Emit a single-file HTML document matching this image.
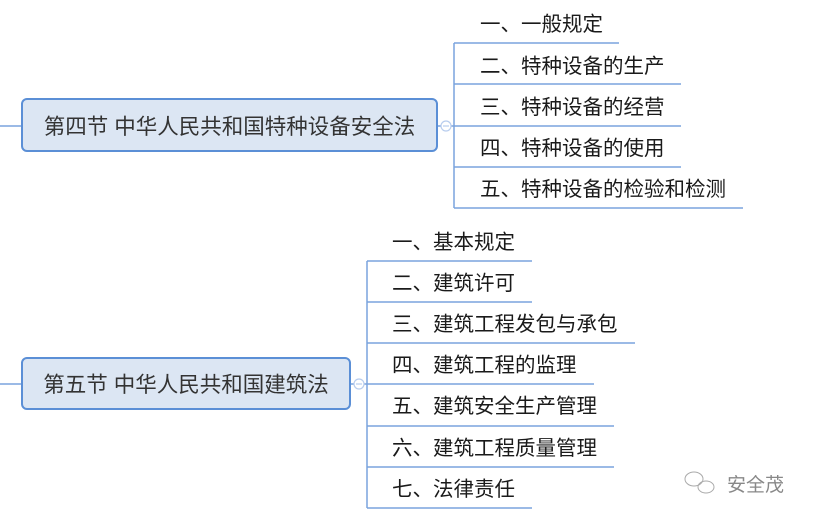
<!DOCTYPE html>
<html><head><meta charset="utf-8"><style>
html,body{margin:0;padding:0;background:#fff;width:813px;height:521px;overflow:hidden;position:relative}
.t{position:absolute;font-family:"Liberation Sans","Noto Sans CJK SC",sans-serif;font-size:20.5px;color:#1a1a1a;white-space:nowrap;line-height:24px}
.box{position:absolute;box-sizing:border-box;border:2.5px solid #5b8fd6;border-radius:6px;background:#dce6f3;font-family:"Liberation Sans","Noto Sans CJK SC",sans-serif;font-size:21.5px;color:#333;display:flex;align-items:center;justify-content:center;white-space:nowrap}
</style></head><body>
<svg width="813" height="521" style="position:absolute;left:0;top:0">
<g stroke="#7aa3dd" stroke-width="1.5" fill="none">
<line x1="0" y1="126" x2="22" y2="126"/>
<line x1="438" y1="126" x2="454" y2="126"/>
<line x1="454" y1="43" x2="454" y2="208"/>
<line x1="454" y1="43" x2="619" y2="43"/>
<line x1="454" y1="84" x2="681" y2="84"/>
<line x1="454" y1="126" x2="681" y2="126"/>
<line x1="454" y1="167" x2="681" y2="167"/>
<line x1="454" y1="208" x2="743" y2="208"/>
<line x1="0" y1="384" x2="22" y2="384"/>
<line x1="350" y1="384" x2="367" y2="384"/>
<line x1="367" y1="261" x2="367" y2="508"/>
<line x1="367" y1="261" x2="532" y2="261"/>
<line x1="367" y1="302" x2="532" y2="302"/>
<line x1="367" y1="343" x2="635" y2="343"/>
<line x1="367" y1="384" x2="594" y2="384"/>
<line x1="367" y1="426" x2="614" y2="426"/>
<line x1="367" y1="467" x2="614" y2="467"/>
<line x1="367" y1="508" x2="532" y2="508"/>
</g>
<g stroke="#b8cdee" stroke-width="1.2" fill="#fff">
<circle cx="446" cy="126" r="5"/><line x1="443" y1="126" x2="449" y2="126"/>
<circle cx="359" cy="384" r="5"/><line x1="356" y1="384" x2="362" y2="384"/>
</g>
<g stroke="#aaa" stroke-width="1" fill="none">
<ellipse cx="694" cy="479" rx="9" ry="7"/>
<ellipse cx="706" cy="487" rx="8" ry="6"/>
</g>
</svg>
<div class="box" style="left:21px;top:98px;width:417px;height:54px">第四节 中华人民共和国特种设备安全法</div>
<div class="box" style="left:21px;top:357px;width:330px;height:53px">第五节 中华人民共和国建筑法</div>
<div class="t" style="left:480px;top:13px">一、一般规定</div>
<div class="t" style="left:480px;top:55px">二、特种设备的生产</div>
<div class="t" style="left:480px;top:96px">三、特种设备的经营</div>
<div class="t" style="left:480px;top:137px">四、特种设备的使用</div>
<div class="t" style="left:480px;top:178px">五、特种设备的检验和检测</div>
<div class="t" style="left:392px;top:231px">一、基本规定</div>
<div class="t" style="left:392px;top:272px">二、建筑许可</div>
<div class="t" style="left:392px;top:313px">三、建筑工程发包与承包</div>
<div class="t" style="left:392px;top:354px">四、建筑工程的监理</div>
<div class="t" style="left:392px;top:395px">五、建筑安全生产管理</div>
<div class="t" style="left:392px;top:437px">六、建筑工程质量管理</div>
<div class="t" style="left:392px;top:478px">七、法律责任</div>
<div class="t" style="left:727px;top:474px;color:#888;font-size:19px">安全茂</div>
</body></html>
